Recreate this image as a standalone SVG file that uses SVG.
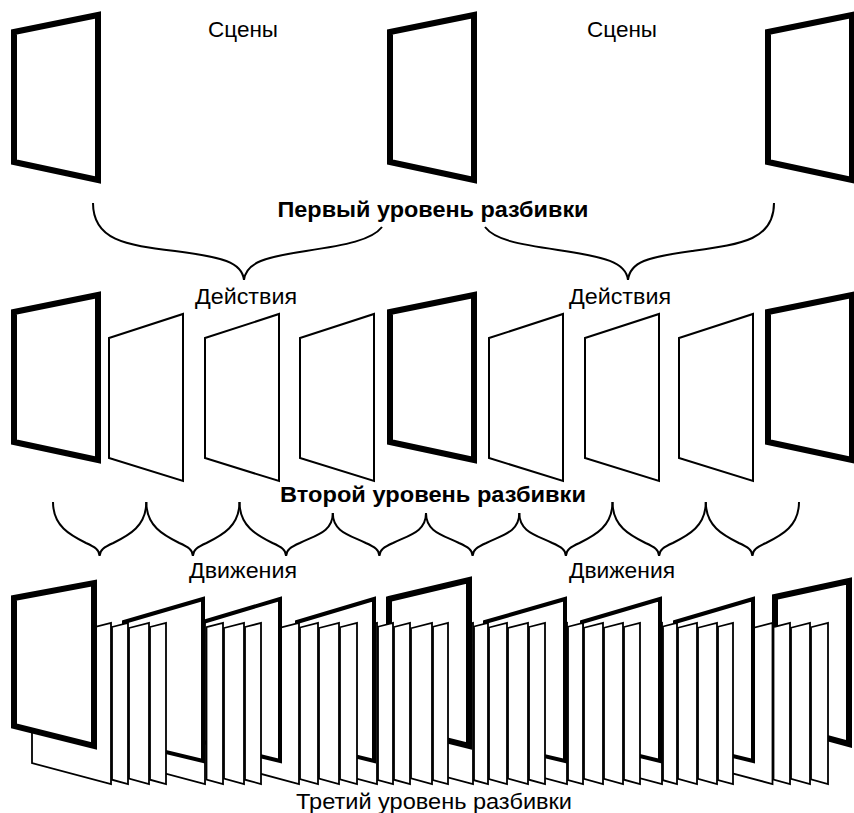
<svg xmlns="http://www.w3.org/2000/svg" width="854" height="813" viewBox="0 0 854 813">
<style>
.scene{fill:#fff;stroke:#000;stroke-width:6;stroke-linejoin:miter}
.thin{fill:#fff;stroke:#000;stroke-width:2;stroke-linejoin:miter}
.act3{fill:#fff;stroke:#000;stroke-width:4;stroke-linejoin:miter}
.strip{fill:#fff;stroke:#000;stroke-width:1.8;stroke-linejoin:miter}
.brace{fill:none;stroke:#000;stroke-width:2;stroke-linecap:butt}
.lbl{font-family:"Liberation Sans",Arial,sans-serif;font-size:22px;fill:#000;text-anchor:middle}
.bold{font-weight:bold;font-size:22px}
</style>
<defs>
<polygon id="sc" points="14,32 98,15 98,180 14,162"/>
<polygon id="th" points="0,338 74,314 74,481 0,458"/>
<polygon id="wide" points="0,643 79,623 79,784 0,763"/>
<polygon id="act" points="0,622 78,599 78,761 0,742"/>
</defs>

<g id="row1">
<g id="r1-scene1"><use href="#sc" class="scene"/></g>
<g id="r1-scene2"><use href="#sc" x="376" class="scene"/></g>
<g id="r1-scene3"><use href="#sc" x="754" class="scene"/></g>
<g id="r1-label1"><text class="lbl" x="243" y="37" textLength="70" lengthAdjust="spacingAndGlyphs">Сцены</text></g>
<g id="r1-label2"><text class="lbl" x="622" y="37" textLength="70" lengthAdjust="spacingAndGlyphs">Сцены</text></g>
<g id="level1"><text class="lbl bold" x="433" y="217" textLength="311" lengthAdjust="spacingAndGlyphs">Первый уровень разбивки</text></g>
</g>

<g id="row2">
<g id="r2-scene1"><use href="#sc" y="280" class="scene"/></g>
<g id="r2-act1"><use href="#th" x="109" class="thin"/></g>
<g id="r2-act2"><use href="#th" x="205" class="thin"/></g>
<g id="r2-act3"><use href="#th" x="300" class="thin"/></g>
<g id="r2-scene2"><use href="#sc" x="376" y="280" class="scene"/></g>
<g id="r2-act4"><use href="#th" x="489" class="thin"/></g>
<g id="r2-act5"><use href="#th" x="585" class="thin"/></g>
<g id="r2-act6"><use href="#th" x="679" class="thin"/></g>
<g id="r2-scene3"><use href="#sc" x="754" y="280" class="scene"/></g>
<g id="r2-label1"><text class="lbl" x="246" y="304" textLength="102" lengthAdjust="spacingAndGlyphs">Действия</text></g>
<g id="r2-label2"><text class="lbl" x="620" y="304" textLength="102" lengthAdjust="spacingAndGlyphs">Действия</text></g>
<g id="level2"><text class="lbl bold" x="433" y="502" textLength="306" lengthAdjust="spacingAndGlyphs">Второй уровень разбивки</text></g>
</g>

<g id="row3">
<g id="r3-g-scene3">
<polygon class="scene" points="775,597 849,581 849,744 775,724"/>
<use href="#wide" x="693.5" class="strip"/>
<polygon class="strip" points="773.5,627.1 790,623 790,784 773.5,779.5"/>
<polygon class="strip" points="791,627.75 810,623 810,784 791,778.9"/>
<polygon class="strip" points="811,627.25 828,623 828,784 811,779.4"/>
</g>
<g id="r3-g-act6">
<use href="#act" x="675" class="act3"/>
<use href="#wide" x="583" class="strip"/>
<polygon class="strip" points="663,626.5 677,623 677,784 663,780.2"/>
<polygon class="strip" points="678,627.75 697,623 697,784 678,778.9"/>
<polygon class="strip" points="698,627.75 717,623 717,784 698,778.9"/>
<polygon class="strip" points="718,626.75 733,623 733,784 718,780"/>
</g>
<g id="r3-g-act5">
<use href="#act" x="582" class="act3"/>
<use href="#wide" x="488" class="strip"/>
<polygon class="strip" points="568,626.75 583,623 583,784 568,780"/>
<polygon class="strip" points="584,627.75 603,623 603,784 584,778.9"/>
<polygon class="strip" points="604,627.75 623,623 623,784 604,778.9"/>
<polygon class="strip" points="624,627 640,623 640,784 624,779.7"/>
</g>
<g id="r3-g-act4">
<polygon class="act3" points="485,622 565,599 565,761 485,742"/>
<use href="#wide" x="394" class="strip"/>
<polygon class="strip" points="474,626.5 488,623 488,784 474,780.2"/>
<polygon class="strip" points="489,627.5 507,623 507,784 489,779.1"/>
<polygon class="strip" points="508,628 528,623 528,784 508,778.6"/>
<polygon class="strip" points="529,627 545,623 545,784 529,779.7"/>
</g>
<g id="r3-g-scene2">
<polygon class="scene" points="389,599 469,580 469,746 389,726"/>
<use href="#wide" x="298" class="strip"/>
<polygon class="strip" points="378,626.75 393,623 393,784 378,780"/>
<polygon class="strip" points="394,627 410,623 410,784 394,779.7"/>
<polygon class="strip" points="411,628.25 432,623 432,784 411,778.3"/>
<polygon class="strip" points="433,626.75 448,623 448,784 433,780"/>
</g>
<g id="r3-g-act3">
<polygon class="act3" points="297,622 374,599 374,761 297,742"/>
<use href="#wide" x="220" class="strip"/>
<polygon class="strip" points="300,627.5 318,623 318,784 300,779.1"/>
<polygon class="strip" points="319,628 339,623 339,784 319,778.6"/>
<polygon class="strip" points="340,627.25 357,623 357,784 340,779.4"/>
</g>
<g id="r3-g-act2">
<polygon class="act3" points="203,622 280,599 280,761 203,742"/>
<use href="#wide" x="126" class="strip"/>
<polygon class="strip" points="206.5,627.1 223,623 223,784 206.5,779.5"/>
<polygon class="strip" points="224,628 244,623 244,784 224,778.6"/>
<polygon class="strip" points="245,627 261,623 261,784 245,779.7"/>
</g>
<g id="r3-g-act1">
<polygon class="act3" points="124,622 203,599 203,761 124,742"/>
<use href="#wide" x="32" class="strip"/>
<polygon class="strip" points="112,627 128,623 128,784 112,779.7"/>
<polygon class="strip" points="129,628 149,623 149,784 129,778.6"/>
<polygon class="strip" points="150,627 166,623 166,784 150,779.7"/>
</g>
<g id="r3-scene1">
<polygon class="scene" points="14,598 94,583 94,746 14,726"/>
</g>
<g id="r3-label1"><text class="lbl" x="243" y="578" textLength="108" lengthAdjust="spacingAndGlyphs">Движения</text></g>
<g id="r3-label2"><text class="lbl" x="622" y="578" textLength="106" lengthAdjust="spacingAndGlyphs">Движения</text></g>
<g id="level3"><text class="lbl" x="434" y="809" textLength="276" lengthAdjust="spacingAndGlyphs">Третий уровень разбивки</text></g>
</g>

<g id="connectors">
<path class="brace" d="M93,203 C93,240 125,245 175,251 C222,257 242,262 244,280 C246,262 266,257 306,251 C346,245 372,240 382,227"/>
<path class="brace" d="M485,227 C495,240 518,244 558,250 C605,257 626,262 628,280 C630,262 647,257 692,251 C742,244 774,240 774,203"/>
<path class="brace" d="M53,502 C53,526 70,535 86,543 C95,547 99.6,550 99.6,556 C99.6,550 104.3,547 113.3,543 C129.3,535 146.3,526 146.3,502"/>
<path class="brace" d="M146.3,502 C146.3,526 163.3,535 179.3,543 C188.3,547 192.9,550 192.9,556 C192.9,550 197.5,547 206.5,543 C222.5,535 239.5,526 239.5,502"/>
<path class="brace" d="M239.5,502 C239.5,526 256.5,535 272.5,543 C281.5,547 286.1,550 286.1,556 C286.1,550 290.8,547 299.8,543 C315.8,535 332.8,532 332.8,513"/>
<path class="brace" d="M332.8,513 C332.8,532 349.8,535 365.8,543 C374.8,547 379.4,550 379.4,556 C379.4,550 384,547 393,543 C409,535 426,532 426,513"/>
<path class="brace" d="M426,513 C426,532 443,535 459,543 C468,547 472.6,550 472.6,556 C472.6,550 477.3,547 486.3,543 C502.3,535 519.3,532 519.3,513"/>
<path class="brace" d="M519.3,513 C519.3,532 536.3,535 552.3,543 C561.3,547 565.9,550 565.9,556 C565.9,550 570.5,547 579.5,543 C595.5,535 612.5,526 612.5,502"/>
<path class="brace" d="M612.5,502 C612.5,526 629.5,535 645.5,543 C654.5,547 659.1,550 659.1,556 C659.1,550 663.8,547 672.8,543 C688.8,535 705.8,526 705.8,502"/>
<path class="brace" d="M705.8,502 C705.8,526 722.8,535 738.8,543 C747.8,547 752.4,550 752.4,556 C752.4,550 757,547 766,543 C782,535 799,526 799,502"/>
</g>
</svg>
